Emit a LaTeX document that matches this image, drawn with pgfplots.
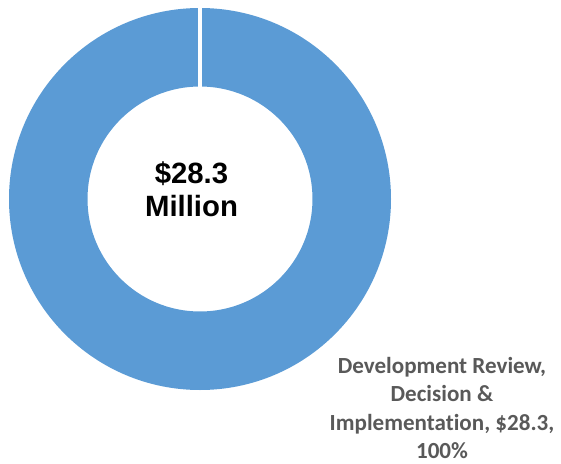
\documentclass[border=0pt]{standalone}
\usepackage{pgfplots}
\pgfplotsset{compat=1.18}
\usepackage{pgfplotstable}
\usepackage{fontspec}
\setmainfont{Liberation Sans}
\newfontfamily\calibri[Ligatures=NoCommon]{Carlito}
\definecolor{slice}{HTML}{5B9BD5}
\definecolor{lbl}{HTML}{595959}

\pgfplotstableread{
label value
DRDI  28.3
}\spend

\begin{document}
\begin{tikzpicture}
\pgfplotstablegetelem{0}{value}\of\spend
\let\v\pgfplotsretval
\pgfmathsetmacro{\endang}{90-360*\v/\v}
\begin{axis}[
  scale only axis,
  width=420.75pt, height=345pt,
  xmin=0, xmax=561, ymin=0, ymax=460,
  hide axis, clip=false,
]
% canvas (image px, y up)
\path (axis cs:0,0) rectangle (axis cs:561,460);
% donut slice
\fill[slice, even odd rule]
  (axis cs:200,261) circle [radius=191]
  (axis cs:200,261) circle [radius=112.5];
% slice border (start/end of the single slice at 12 o'clock)
\draw[white, line width=3.4pt]
  (axis cs:200,261) -- ++(\endang:143.5pt);
% centre text
\node[font=\bfseries\fontsize{22}{24.75}\selectfont, align=center]
  at (axis cs:191.5,271) {\$28.3\\Million};
% data label
\node[font=\calibri\bfseries\fontsize{17.3}{21.4}\selectfont, text=lbl, align=center]
  at (axis cs:442,52) {Development Review,\\Decision \&\\Implementation, \$28.3,\\100\%};
\end{axis}
\end{tikzpicture}
\end{document}
